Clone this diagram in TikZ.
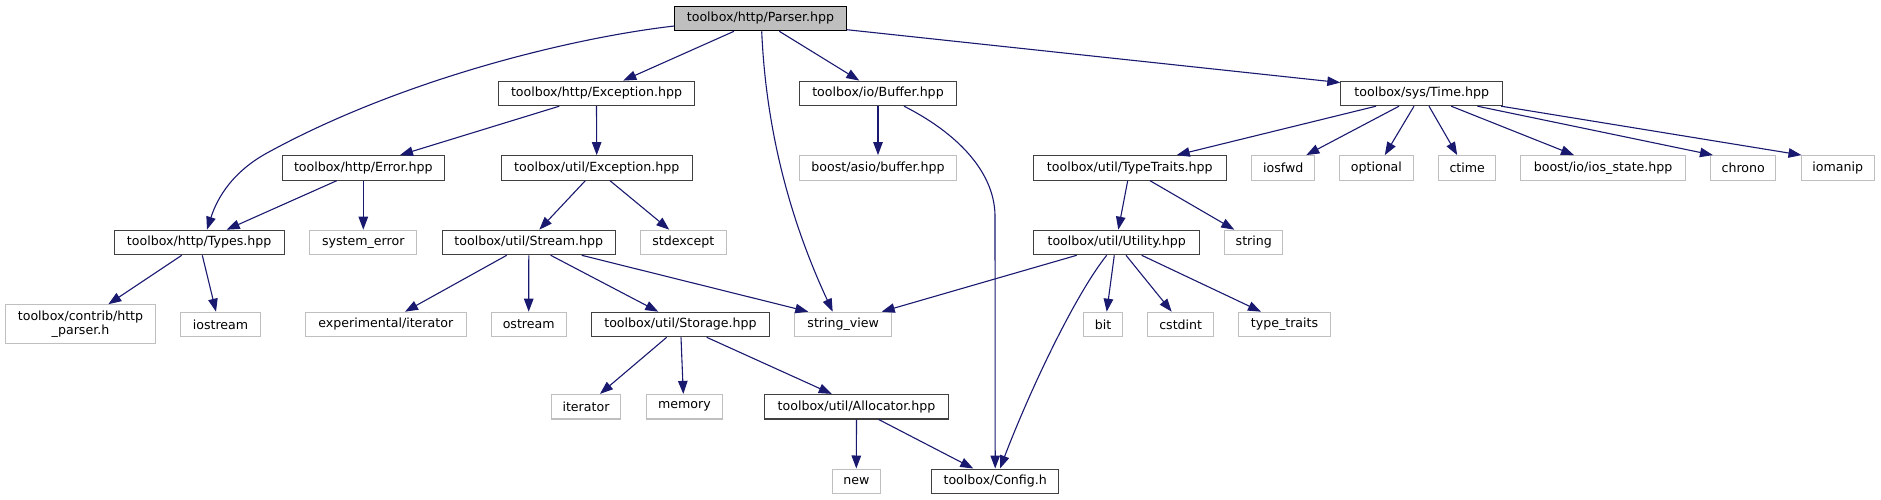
\documentclass[tikz,border=0pt]{standalone}
\usepackage{fontspec}
\setmainfont{DejaVu Sans}
\usetikzlibrary{arrows.meta,calc}
\definecolor{edgec}{HTML}{191970}
\definecolor{grayf}{HTML}{BFBFBF}
\definecolor{bord}{HTML}{404040}
\begin{document}
\begin{tikzpicture}[x=1pt,y=-1pt,
  box/.style={draw=bord, line width=1.1pt, fill=white, inner sep=0pt, minimum height=24.5pt, font=\fontsize{12.6}{14}\selectfont, align=center},
  root/.style={box, fill=grayf, draw=black},
  ext/.style={box, draw=grayf},
  e/.style={draw=edgec, line width=1.1pt, -{Triangle[length=13pt,width=9.5pt]}}]
\useasboundingbox (0,0) rectangle (1881,500);
% row 1
\node[root, minimum width=171.4pt] (parser) at (760.5,18.5) {toolbox/http/Parser.hpp};
% row 2
\node[box, minimum width=196.6pt] (httpexc) at (596.5,93.4) {toolbox/http/Exception.hpp};
\node[box, minimum width=156.4pt] (buffer) at (878,93.4) {toolbox/io/Buffer.hpp};
\node[box, minimum width=161.7pt] (time) at (1421.7,93.4) {toolbox/sys/Time.hpp};
% row 3
\node[box, minimum width=162.3pt] (error) at (363.3,167.9) {toolbox/http/Error.hpp};
\node[box, minimum width=191pt] (utilexc) at (596.7,167.9) {toolbox/util/Exception.hpp};
\node[ext, minimum width=157.6pt] (asio) at (878,167.9) {boost/asio/buffer.hpp};
\node[box, minimum width=192.7pt] (typetraits) at (1129.8,167.9) {toolbox/util/TypeTraits.hpp};
\node[ext, minimum width=63.3pt] (iosfwd) at (1283.2,167.9) {iosfwd};
\node[ext, minimum width=73.8pt] (optional) at (1376.4,167.9) {optional};
\node[ext, minimum width=57.3pt] (ctime) at (1467.2,167.9) {ctime};
\node[ext, minimum width=164.4pt] (iosstate) at (1603.1,167.9) {boost/io/ios\_state.hpp};
\node[ext, minimum width=65.4pt] (chrono) at (1743.2,167.9) {chrono};
\node[ext, minimum width=73.5pt] (iomanip) at (1837.8,167.9) {iomanip};
% row 4
\node[box, minimum width=170pt] (types) at (199.2,242.5) {toolbox/http/Types.hpp};
\node[ext, minimum width=107pt] (syserr) at (363.3,242.5) {system\_error};
\node[box, minimum width=173.5pt] (stream) at (528.8,242.5) {toolbox/util/Stream.hpp};
\node[ext, minimum width=85.7pt] (stdexcept) at (683.3,242.5) {stdexcept};
\node[box, minimum width=166.3pt] (utility) at (1116.7,242.5) {toolbox/util/Utility.hpp};
\node[ext, minimum width=58pt] (string) at (1253.8,242.5) {string};
% row 5
\node[ext, minimum width=150pt, minimum height=39pt] (contrib) at (80.5,324.3) {toolbox/contrib/http\\\_parser.h};
\node[ext, minimum width=79.3pt] (iostream) at (220.5,324.5) {iostream};
\node[ext, minimum width=160.7pt] (experimental) at (385.8,324.5) {experimental/iterator};
\node[ext, minimum width=75pt] (ostream) at (528.7,324.5) {ostream};
\node[box, minimum width=178pt] (storage) at (680.5,324.5) {toolbox/util/Storage.hpp};
\node[ext, minimum width=96.7pt] (stringview) at (843.2,324.5) {string\_view};
\node[ext, minimum width=38.3pt] (bit) at (1103,324.5) {bit};
\node[ext, minimum width=66.3pt] (cstdint) at (1180.7,324.5) {cstdint};
\node[ext, minimum width=91.3pt] (typetraitsstd) at (1284.5,324.5) {type\_traits};
% row 6
\node[ext, minimum width=69.7pt] (iterator) at (586,406.7) {iterator};
\node[ext, minimum width=76.7pt] (memory) at (684.5,406.7) {memory};
\node[box, minimum width=184.7pt] (allocator) at (856.5,406.7) {toolbox/util/Allocator.hpp};
% row 7
\node[ext, minimum width=48.3pt] (new) at (856.3,481.3) {new};
\node[box, minimum width=127.3pt] (config) at (995.2,481.3) {toolbox/Config.h};

% edges from Parser
\draw[e] ($(parser.west)+(0,7.5)$) .. controls (570,38) and (400,80) .. (267,153) .. controls (227,175) and (215,205) .. ($(types.north)+(7.8,0)$);
\draw[e] ($(parser.south)+(-26.5,0)$) -- ($(httpexc.north)+(26.8,0)$);
\draw[e] ($(parser.south)+(1.2,0)$) .. controls (766,130) and (790,220) .. ($(stringview.north)+(-10.5,0)$);
\draw[e] ($(parser.south)+(18.8,0)$) -- ($(buffer.north)+(-18.7,0)$);
\draw[e] ($(parser.south east)+(0,-1.6)$) -- ($(time.north west)+(0,2)$);
% http exception
\draw[e] ($(httpexc.south)+(-37.2,0)$) -- ($(error.north)+(36.7,0)$);
\draw[e] (httpexc.south) -- (utilexc.north);
% error
\draw[e] ($(error.south)+(-26.6,0)$) -- ($(types.north)+(27.5,0)$);
\draw[e] (error.south) -- (syserr.north);
% util exception
\draw[e] ($(utilexc.south)+(-11.4,0)$) -- ($(stream.north)+(10.5,0)$);
\draw[e] ($(utilexc.south)+(13.3,0)$) -- ($(stdexcept.north)+(-14,0)$);
% buffer
\draw[e] (buffer.south) -- (asio.north);
\draw[e] ($(buffer.south)+(26,0)$) .. controls (955,132) and (994,170) .. (995,215) -- (config.north);
% time
\draw[e] ($(time.south)+(-45.7,0)$) -- ($(typetraits.north)+(46.9,0)$);
\draw[e] ($(time.south)+(-22.7,0)$) -- ($(iosfwd.north)+(23.1,0)$);
\draw[e] ($(time.south)+(-7.7,0)$) -- ($(optional.north)+(8.4,0)$);
\draw[e] ($(time.south)+(7.3,0)$) -- ($(ctime.north)+(-10,0)$);
\draw[e] ($(time.south)+(29.5,0)$) -- ($(iosstate.north)+(-29.1,0)$);
\draw[e] ($(time.south)+(55.7,0)$) -- ($(chrono.north west)+(3,0)$);
\draw[e] ($(time.south east)+(-2,0)$) -- ($(iomanip.north west)+(1,0)$);
% type traits
\draw[e] ($(typetraits.south)+(-2.1,0)$) -- ($(utility.north)+(1.6,0)$);
\draw[e] ($(typetraits.south)+(20.2,0)$) -- ($(string.north)+(-19.5,0)$);
% utility
\draw[e] ($(utility.south)+(-40,0)$) -- ($(stringview.north)+(38.5,0)$);
\draw[e] ($(utility.south)+(-10,0)$) .. controls (1075,295) and (1030,390) .. ($(config.north)+(4.8,0)$);
\draw[e] ($(utility.south)+(-2.4,0)$) -- ($(bit.north)+(3.7,0)$);
\draw[e] ($(utility.south)+(9.3,0)$) -- ($(cstdint.north)+(-9,0)$);
\draw[e] ($(utility.south)+(25,0)$) -- ($(typetraitsstd.north)+(-23.5,0)$);
% stream
\draw[e] ($(stream.south)+(52.9,0)$) -- ($(stringview.north)+(-34.9,0)$);
\draw[e] ($(stream.south)+(21.9,0)$) -- ($(storage.north)+(-22.2,0)$);
\draw[e] (stream.south) -- (ostream.north);
\draw[e] ($(stream.south)+(-22.1,0)$) -- ($(experimental.north)+(19.2,0)$);
% types
\draw[e] ($(types.south)+(-17.5,0)$) -- ($(contrib.north)+(27.8,0)$);
\draw[e] ($(types.south)+(3.1,0)$) -- ($(iostream.north)+(-4.5,0)$);
% storage
\draw[e] ($(storage.south)+(-13.8,0)$) -- ($(iterator.north)+(14,0)$);
\draw[e] ($(storage.south)+(0.5,0)$) -- ($(memory.north)+(-1.2,0)$);
\draw[e] ($(storage.south)+(26.2,0)$) -- ($(allocator.north)+(-24.8,0)$);
% allocator
\draw[e] (allocator.south) -- (new.north);
\draw[e] ($(allocator.south)+(22.2,0)$) -- ($(config.north)+(-21.9,0)$);
\end{tikzpicture}
\end{document}
